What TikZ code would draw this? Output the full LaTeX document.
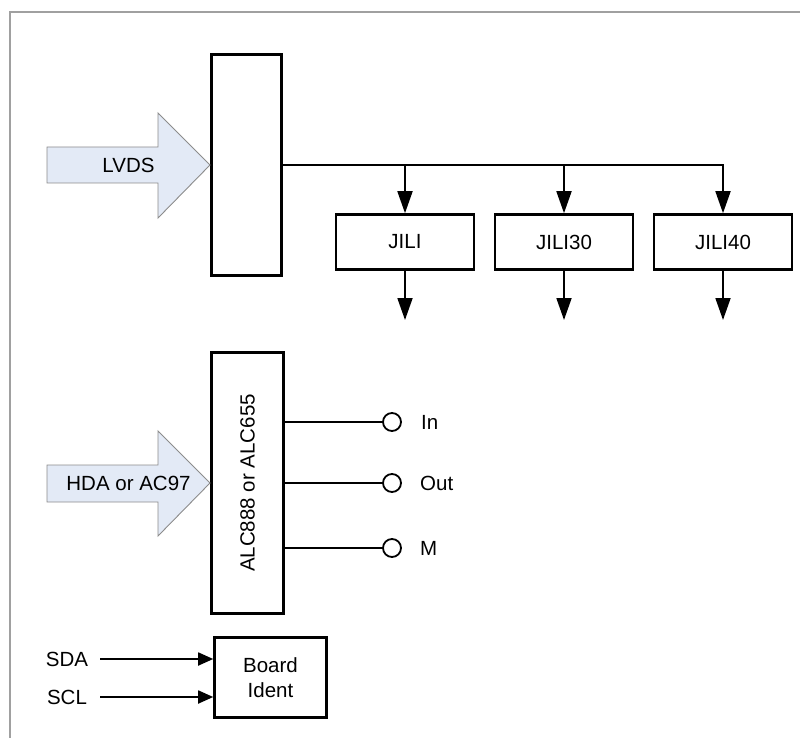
\documentclass[tikz,border=0pt]{standalone}
\usepackage{fontspec}
\setmainfont{Liberation Sans}
\usetikzlibrary{arrows.meta}
\definecolor{arrowfill}{HTML}{E3EAF6}
\definecolor{arrowline}{HTML}{8C8C8C}
\definecolor{framegray}{HTML}{A0A0A0}
\begin{document}
\begin{tikzpicture}[x=1pt,y=-1pt,
  font=\fontsize{20.5}{25}\selectfont,
  box/.style={draw, line width=2.6pt, inner sep=0pt},
  blockarrow/.style={draw=arrowline, fill=arrowfill, line width=0.9pt},
  conn/.style={line width=1.8pt},
  bigtip/.style={conn, -{Triangle[length=22pt,width=15pt]}},
  smalltip/.style={conn, -{Triangle[length=15pt,width=13pt]}},
  jack/.style={circle, draw, line width=1.8pt, minimum size=18pt, inner sep=0pt},
  lbl/.style={inner sep=0pt}]
\useasboundingbox (0,0) rectangle (800,738);
% frame
\draw[framegray, line width=1.2pt] (10,738) -- (10,12) -- (800,12);

% boxes
\node[box, minimum width=70pt, minimum height=221pt] (mux) at (246.5,165) {};
\node[box, minimum width=138pt, minimum height=55pt] (j1) at (405,242) {JILI};
\node[box, minimum width=138pt, minimum height=55pt] (j2) at (564,242) {JILI30};
\node[box, minimum width=138pt, minimum height=55pt] (j3) at (723,242) {JILI40};
\node[box, minimum width=72pt, minimum height=261pt] (alc) at (247.5,483) {};
\node[lbl, rotate=90] (alct) at (alc.center) {ALC888 or ALC655};
\node[box, minimum width=112pt, minimum height=80pt, align=center] (board) at (270.5,677.5) {Board\\Ident};

% block arrows
\draw[blockarrow] (47,147) -- (158,147) -- (158,113) -- (210,165) -- (158,218) -- (158,183) -- (47,183) -- cycle;
\node[lbl] (lvds) at (128.5,165) {LVDS};
\draw[blockarrow] (47,465) -- (158,465) -- (158,431) -- (210,483) -- (158,536) -- (158,502) -- (47,502) -- cycle;
\node[lbl] (hda) at (128.5,483) {HDA or AC97};

% bus to JILI boxes
\draw[bigtip] (mux.east) -| (j3.north);
\draw[bigtip] (j1.north |- mux.east) -- (j1.north);
\draw[bigtip] (j2.north |- mux.east) -- (j2.north);
\coordinate (o1) at (405,320);
\coordinate (o2) at (564,320);
\coordinate (o3) at (723,320);
\draw[bigtip] (j1.south) -- (o1);
\draw[bigtip] (j2.south) -- (o2);
\draw[bigtip] (j3.south) -- (o3);

% audio jacks
\node[jack] (cin) at (392,422) {};
\node[jack] (cout) at (392,483) {};
\node[jack] (cm) at (392,548) {};
\draw[conn] (alc.east |- cin) -- (cin.west);
\draw[conn] (alc.east |- cout) -- (cout.west);
\draw[conn] (alc.east |- cm) -- (cm.west);
\node[lbl, anchor=west] (lin) at (421,422) {In};
\node[lbl, anchor=west] (lout) at (420,483) {Out};
\node[lbl, anchor=west] (lm) at (420,548) {M};

% I2C
\node[lbl] (sda) at (67,659) {SDA};
\node[lbl] (scl) at (67,697) {SCL};
\coordinate (sdas) at (100,659);
\coordinate (scls) at (100,697);
\draw[smalltip] (sdas) -- (board.west |- sdas);
\draw[smalltip] (scls) -- (board.west |- scls);
\end{tikzpicture}
\end{document}
